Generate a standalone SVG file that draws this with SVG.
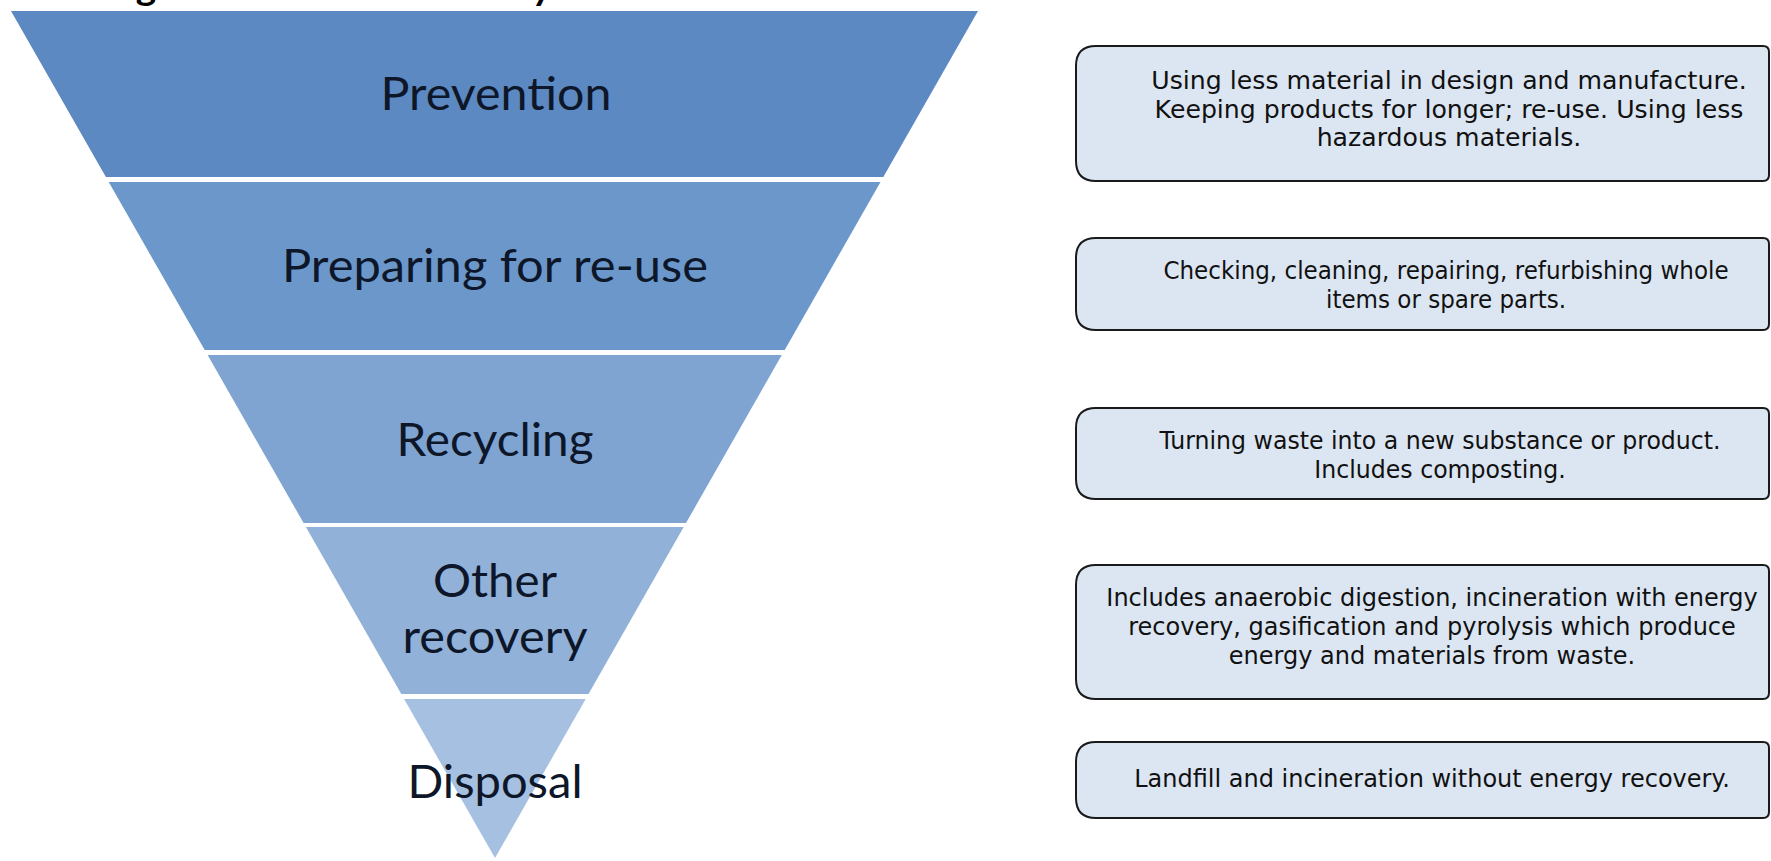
<svg xmlns="http://www.w3.org/2000/svg" width="1771" height="861" viewBox="0 0 1771 861">
  <style>
    .lbl { font-family: Lato, "Open Sans", "Liberation Sans", sans-serif; font-size: 47px; fill: #0d1729; text-anchor: middle; }
    .box { fill: #dce6f2; stroke: #1a1a1a; stroke-width: 2; }
    .bt { font-family: "DejaVu Sans", Verdana, sans-serif; font-size: 24px; fill: #111; text-anchor: middle; }
    .title { font-family: Lato, "Liberation Sans", sans-serif; font-weight: bold; font-size: 36px; fill: #000; }
  </style>
  <rect width="1771" height="861" fill="#ffffff"/>
  <text class="title" x="104" y="0" textLength="448" lengthAdjust="spacingAndGlyphs">Figure 1: Waste Hierarchy</text>

  <g id="tier-prevention">
    <polygon points="11,11 978,11 883.3,177 105.9,177" fill="#5d89c2"/>
    <text class="lbl" x="496" y="110" textLength="231" lengthAdjust="spacingAndGlyphs">Prevention</text>
  </g>
  <g id="tier-preparing">
    <polygon points="108.7,182 880.5,182 784.7,350 204.7,350" fill="#6c97cb"/>
    <text class="lbl" x="495" y="282" textLength="426" lengthAdjust="spacingAndGlyphs">Preparing for re-use</text>
  </g>
  <g id="tier-recycling">
    <polygon points="207.6,355 781.8,355 686,523 303.6,523" fill="#7fa4d1"/>
    <text class="lbl" x="495" y="456" textLength="197" lengthAdjust="spacingAndGlyphs">Recycling</text>
  </g>
  <g id="tier-other-recovery">
    <polygon points="305.9,527 683.7,527 588.5,694 401.3,694" fill="#91b1d9"/>
    <text class="lbl" x="495" y="597" textLength="124" lengthAdjust="spacingAndGlyphs">Other</text>
    <text class="lbl" x="495" y="653" textLength="185" lengthAdjust="spacingAndGlyphs">recovery</text>
  </g>
  <g id="tier-disposal">
    <polygon points="404.1,699 585.7,699 495,858" fill="#a6c0e1"/>
    <text class="lbl" x="495" y="798" textLength="175" lengthAdjust="spacingAndGlyphs">Disposal</text>
  </g>

  <g id="desc-prevention">
    <path class="box" d="M1096,46 H1763 Q1769,46 1769,52 V175 Q1769,181 1763,181 H1096 Q1076,181 1076,161 V66 Q1076,46 1096,46 Z"/>
    <g transform="translate(1449,0) scale(1.05,1)">
      <text class="bt" x="0" y="89">Using less material in design and manufacture.</text>
      <text class="bt" x="0" y="118">Keeping products for longer; re-use. Using less</text>
      <text class="bt" x="0" y="146">hazardous materials.</text>
    </g>
  </g>
  <g id="desc-preparing">
    <path class="box" d="M1096,238 H1763 Q1769,238 1769,244 V324 Q1769,330 1763,330 H1096 Q1076,330 1076,310 V258 Q1076,238 1096,238 Z"/>
    <g transform="translate(1446,0) scale(0.96,1)">
      <text class="bt" x="0" y="279">Checking, cleaning, repairing, refurbishing whole</text>
      <text class="bt" x="0" y="308">items or spare parts.</text>
    </g>
  </g>
  <g id="desc-recycling">
    <path class="box" d="M1096,408 H1763 Q1769,408 1769,414 V493 Q1769,499 1763,499 H1096 Q1076,499 1076,479 V428 Q1076,408 1096,408 Z"/>
    <g transform="translate(1440,0) scale(0.985,1)">
      <text class="bt" x="0" y="449">Turning waste into a new substance or product.</text>
      <text class="bt" x="0" y="478">Includes composting.</text>
    </g>
  </g>
  <g id="desc-other-recovery">
    <path class="box" d="M1096,565 H1763 Q1769,565 1769,571 V693 Q1769,699 1763,699 H1096 Q1076,699 1076,679 V585 Q1076,565 1096,565 Z"/>
    <g transform="translate(1432,0) scale(1.0,1)">
      <text class="bt" x="0" y="606">Includes anaerobic digestion, incineration with energy</text>
      <text class="bt" x="0" y="635">recovery, gasification and pyrolysis which produce</text>
      <text class="bt" x="0" y="664">energy and materials from waste.</text>
    </g>
  </g>
  <g id="desc-disposal">
    <path class="box" d="M1096,742 H1763 Q1769,742 1769,748 V812 Q1769,818 1763,818 H1096 Q1076,818 1076,798 V762 Q1076,742 1096,742 Z"/>
    <g transform="translate(1432,0) scale(1.0,1)">
      <text class="bt" x="0" y="787">Landfill and incineration without energy recovery.</text>
    </g>
  </g>
  <g id="connectors"/>
</svg>
